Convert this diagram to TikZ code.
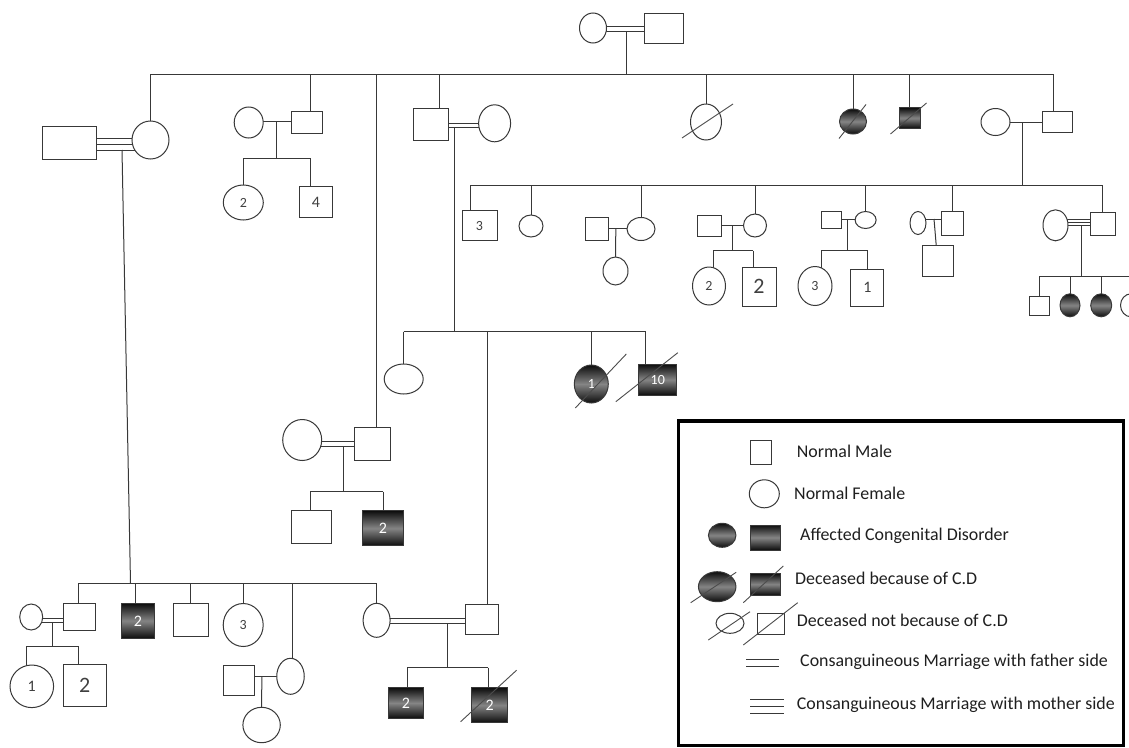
\documentclass[tikz,border=0pt]{standalone}
\usepackage{fontspec}
\setmainfont{Carlito}
\usetikzlibrary{shapes.geometric}
\pgfdeclarelayer{bg}
\pgfsetlayers{bg,main}
\tikzset{
  ln/.style={draw=black!78, line width=1pt},
  male/.style={rectangle, draw=black!78, line width=1pt, fill=white, inner sep=0pt, outer sep=0pt, font=\fontsize{14}{14}\selectfont, text=black!75},
  fem/.style={ellipse, draw=black!78, line width=1pt, fill=white, inner sep=0pt, outer sep=0pt, font=\fontsize{14}{14}\selectfont, text=black!75},
  aff/.style={top color=black!95, bottom color=black!95, middle color=black!48, text=white},
  slash/.style={draw=black!70, line width=0.9pt},
  leg/.style={anchor=west, font=\fontsize{17.9}{18}\selectfont, text=black!88, inner sep=0pt},
  big/.style={font=\fontsize{22}{22}\selectfont},
}
\begin{document}
\begin{tikzpicture}[x=1pt,y=-1pt]
\useasboundingbox (0,0) rectangle (1129,747);
\clip (0,0) rectangle (1129,747);

% ---------- Generation I ----------
\node[fem,minimum width=27,minimum height=30] (f0) at (593,28) {};
\node[male,minimum width=39,minimum height=30] (m0) at (664,28) {};
\coordinate (u0a) at (626,26.5);
\coordinate (u0b) at (626,31);
\coordinate (s1) at (626,74);

% ---------- Generation II ----------
\node[fem,minimum width=37,minimum height=38] (g2a) at (150.5,140) {};
\node[male,minimum width=54,minimum height=33] (g2as) at (69,142.5) {};
\coordinate (ua1) at (110,138);
\coordinate (ua2) at (110,144);
\coordinate (ua3) at (110,150);
\coordinate (da) at (122,150);
\coordinate (sB) at (130.5,583);

\node[male,minimum width=31,minimum height=22] (g2b) at (307,122.5) {};
\node[fem,minimum width=29,minimum height=31] (g2bs) at (248.7,122.5) {};
\coordinate (ub) at (276,121);
\coordinate (sb) at (276,158.3);
\coordinate (db) at (310,122);
\node[fem,minimum width=40,minimum height=35] (g3b1) at (243.3,202.5) {2};
\node[male,font=\fontsize{16}{16}\selectfont,minimum width=33,minimum height=31] (g3b2) at (315.8,202) {4};
\coordinate (dg3b2) at (310.7,202);

\coordinate (vc) at (376.7,444);

\node[male,minimum width=35,minimum height=32] (g2d) at (431,124.5) {};
\node[fem,minimum width=32,minimum height=37] (g2ds) at (494.6,123.3) {};
\coordinate (dd) at (439,124);
\coordinate (ud1) at (454.3,123);
\coordinate (ud2) at (454.3,127.5);
\coordinate (sd) at (454.3,331.7);

\node[fem,minimum width=31,minimum height=36] (g2e) at (706,122) {};
\node[fem,aff,minimum width=27,minimum height=25] (g2f) at (853,121.5) {};
\node[male,aff,minimum width=21,minimum height=20.5] (g2g) at (909.5,118) {};

\node[male,minimum width=30,minimum height=21] (g2h) at (1057.6,122) {};
\node[fem,minimum width=29,minimum height=27] (g2hs) at (995.5,122) {};
\coordinate (dh) at (1053.5,122);
\coordinate (uh) at (1022.6,122);
\coordinate (sh) at (1022.6,185);

% ---------- Generation III (right family) ----------
\node[male,minimum width=35,minimum height=30] (h1) at (479.5,225.7) {3};
\coordinate (dh1) at (470.8,225);
\node[fem,minimum width=24,minimum height=22] (h2) at (531,226) {};

\node[male,minimum width=23,minimum height=23] (h3s) at (596.5,229) {};
\node[fem,minimum width=28,minimum height=23] (h3) at (641,229) {};
\coordinate (uh3) at (615.8,228);
\node[fem,minimum width=25,minimum height=28] (h3c) at (615.5,271) {};

\node[male,minimum width=24,minimum height=21] (h4s) at (709,225.5) {};
\node[fem,minimum width=23,minimum height=23] (h4) at (755,225.5) {};
\coordinate (uh4) at (732,225);
\coordinate (sh4) at (732,250.7);
\node[fem,minimum width=33,minimum height=38] (h4a) at (709,286) {2};
\coordinate (dh4a) at (713,286);
\node[male,big,minimum width=34,minimum height=39] (h4b) at (759,286.5) {2};
\coordinate (dh4b) at (753.3,286);

\node[male,minimum width=20,minimum height=17] (h5s) at (831,219.5) {};
\node[fem,minimum width=21,minimum height=17] (h5) at (865.6,220) {};
\coordinate (uh5) at (847.8,219.5);
\coordinate (sh5) at (847.8,250);
\node[fem,minimum width=34,minimum height=39] (h5a) at (815,286) {3};
\coordinate (dh5a) at (821.4,286);
\node[male,font=\fontsize{16}{16}\selectfont,minimum width=33,minimum height=37] (h5b) at (867.3,287.5) {1};

\node[fem,minimum width=16,minimum height=23] (h6s) at (918,223) {};
\node[male,minimum width=22,minimum height=24] (h6) at (952,223) {};
\coordinate (uh6) at (934,219);
\node[male,minimum width=31,minimum height=31] (h6c) at (937.5,260.5) {};

\node[fem,minimum width=25,minimum height=31] (h7s) at (1055.5,225.3) {};
\node[male,minimum width=25,minimum height=23] (h7) at (1103.3,224.3) {};
\coordinate (dh7) at (1102,224);
\coordinate (uh7a) at (1080,219.5);
\coordinate (uh7b) at (1080,222.5);
\coordinate (uh7c) at (1080,225.5);
\coordinate (uh7) at (1081.7,225.5);
\coordinate (sh7) at (1081.7,276);
\node[male,minimum width=20,minimum height=19] (h7a) at (1039,305.5) {};
\node[fem,aff,minimum width=20,minimum height=23] (h7b) at (1070,305.3) {};
\node[fem,aff,minimum width=21,minimum height=23] (h7c) at (1101.2,305.3) {};
\node[fem,minimum width=21,minimum height=23] (h7d) at (1131,305.3) {};

% ---------- Generation III (children of g2d) ----------
\node[fem,minimum width=39,minimum height=30] (d1) at (403.7,379) {};
\coordinate (vd) at (487.7,619);
\node[fem,aff,minimum width=34,minimum height=38] (d3) at (591.3,384) {1};
\node[male,aff,minimum width=38,minimum height=31] (d4) at (657.8,379.7) {10};
\coordinate (dd4) at (645.7,380);

% ---------- couple under vertical at 376 ----------
\node[male,minimum width=36,minimum height=33] (g3c) at (372,444) {};
\node[fem,minimum width=39,minimum height=41] (g3cs) at (302.2,440) {};
\coordinate (uc1) at (343.3,441);
\coordinate (uc2) at (343.3,446);
\coordinate (sc) at (343.3,491.7);
\node[male,minimum width=40,minimum height=33] (c1) at (311.7,527.3) {};
\coordinate (dc1) at (310,527);
\node[male,aff,font=\fontsize{16}{16}\selectfont,minimum width=41,minimum height=35] (c2) at (383,528.3) {2};

% ---------- bottom generation ----------
\node[male,minimum width=32.5,minimum height=27] (b1) at (79.5,616.7) {};
\coordinate (db1) at (78.6,616);
\node[fem,minimum width=23,minimum height=26] (b1s) at (31.2,617) {};
\coordinate (ub1a) at (52.9,618);
\coordinate (ub1b) at (52.9,622.5);
\coordinate (sb1) at (52.9,646);
\node[fem,font=\fontsize{16}{16}\selectfont,minimum width=43.6,minimum height=42.6] (b1a) at (31.8,686.3) {1};
\coordinate (db1a) at (26.8,686);
\node[male,big,minimum width=42.4,minimum height=41.7] (b1b) at (84.8,685.8) {2};
\coordinate (db1b) at (78.6,686);
\node[male,aff,font=\fontsize{16}{16}\selectfont,minimum width=33,minimum height=35] (b2) at (137.9,620.8) {2};
\coordinate (dbb2) at (135.7,620);
\node[male,minimum width=35,minimum height=33] (b3) at (190.7,620) {};
\node[fem,minimum width=40,minimum height=43] (b4) at (243.2,625) {3};
\node[fem,minimum width=27.5,minimum height=36] (b5) at (290.5,676.3) {};
\coordinate (db5) at (292,676);
\node[male,minimum width=31.4,minimum height=30] (b5s) at (238.9,680) {};
\coordinate (ub5) at (261.8,676.7);
\node[fem,minimum width=37.4,minimum height=35.4] (b5c) at (261.6,725) {};
\node[fem,minimum width=27,minimum height=34] (b6) at (376.6,620.3) {};
\node[male,minimum width=33,minimum height=30] (b7) at (481.8,619) {};
\coordinate (ub6a) at (447.5,618.3);
\coordinate (ub6b) at (447.5,623.3);
\coordinate (sb6) at (447.5,667.7);
\node[male,aff,font=\fontsize{16}{16}\selectfont,minimum width=34.6,minimum height=30.6] (b7a) at (405.9,703) {2};
\coordinate (db7a) at (407,703);
\node[male,aff,font=\fontsize{16}{16}\selectfont,minimum width=36.5,minimum height=35] (b7b) at (489.6,705.2) {2};
\coordinate (db7b) at (488.2,705);

% ---------- slashes (deceased) ----------
\draw[slash] ([shift={(-24,16)}]g2e.center) -- ([shift={(27,-18)}]g2e.center);
\draw[slash] ([shift={(-14,17)}]g2f.center) -- ([shift={(13,-17)}]g2f.center);
\draw[slash] ([shift={(-19,16)}]g2g.center) -- ([shift={(17,-15)}]g2g.center);
\draw[slash] ([shift={(-16,24)}]d3.center) -- ([shift={(35,-30)}]d3.center);
\draw[slash] ([shift={(-42,22)}]d4.center) -- ([shift={(20,-27)}]d4.center);
\draw[slash] ([shift={(-29,16.5)}]b7b.center) -- ([shift={(27,-35)}]b7b.center);

% ---------- connectors (behind symbols) ----------
\begin{pgfonlayer}{bg}
\fill[white] (0,0) rectangle (1129,747);
% gen I
\draw[ln] (f0.center |- u0a) -- (m0.center |- u0a);
\draw[ln] (f0.center |- u0b) -- (m0.center |- u0b);
\draw[ln] (u0b) -- (s1);
\draw[ln] (g2a.center |- s1) -- (dh |- s1);
\draw[ln] (g2a.center |- s1) -- (g2a.center);
\draw[ln] (db |- s1) -- (db);
\draw[ln] (vc |- s1) -- (vc);
\draw[ln] (dd |- s1) -- (dd);
\draw[ln] (g2e.center |- s1) -- (g2e.center);
\draw[ln] (g2f.center |- s1) -- (g2f.center);
\draw[ln] (g2g.center |- s1) -- (g2g.center);
\draw[ln] (dh |- s1) -- (dh);
% couple a (triple)
\draw[ln] (g2as.center |- ua1) -- (g2a.center |- ua1);
\draw[ln] (g2as.center |- ua2) -- (g2a.center |- ua2);
\draw[ln] (g2as.center |- ua3) -- (g2a.center |- ua3);
\draw[ln] (da) -- (sB);
% couple b
\draw[ln] (g2bs.center |- ub) -- (g2b.center |- ub);
\draw[ln] (ub) -- (sb);
\draw[ln] (g3b1.center |- sb) -- (dg3b2 |- sb);
\draw[ln] (g3b1.center |- sb) -- (g3b1.center);
\draw[ln] (dg3b2 |- sb) -- (dg3b2);
% couple d
\draw[ln] (g2d.center |- ud1) -- (g2ds.center |- ud1);
\draw[ln] (g2d.center |- ud2) -- (g2ds.center |- ud2);
\draw[ln] (ud2) -- (sd);
\draw[ln] (d1.center |- sd) -- (dd4 |- sd);
\draw[ln] (d1.center |- sd) -- (d1.center);
\draw[ln] (vd |- sd) -- (vd);
\draw[ln] (d3.center |- sd) -- (d3.center);
\draw[ln] (dd4 |- sd) -- (dd4);
% couple h
\draw[ln] (g2hs.center |- uh) -- (g2h.center |- uh);
\draw[ln] (uh) -- (sh);
\draw[ln] (dh1 |- sh) -- (dh7 |- sh);
\draw[ln] (dh1 |- sh) -- (dh1);
\draw[ln] (h2.center |- sh) -- (h2.center);
\draw[ln] (h3.center |- sh) -- (h3.center);
\draw[ln] (h4.center |- sh) -- (h4.center);
\draw[ln] (h5.center |- sh) -- (h5.center);
\draw[ln] (h6.center |- sh) -- (h6.center);
\draw[ln] (dh7 |- sh) -- (dh7);
% h3
\draw[ln] (h3s.center |- uh3) -- (h3.center |- uh3);
\draw[ln] (uh3) -- (h3c.center);
% h4
\draw[ln] (h4s.center |- uh4) -- (h4.center |- uh4);
\draw[ln] (uh4) -- (sh4);
\draw[ln] (dh4a |- sh4) -- (dh4b |- sh4);
\draw[ln] (dh4a |- sh4) -- (dh4a);
\draw[ln] (dh4b |- sh4) -- (dh4b);
% h5
\draw[ln] (h5s.center |- uh5) -- (h5.center |- uh5);
\draw[ln] (uh5) -- (sh5);
\draw[ln] (dh5a |- sh5) -- (h5b.center |- sh5);
\draw[ln] (dh5a |- sh5) -- (dh5a);
\draw[ln] (h5b.center |- sh5) -- (h5b.center);
% h6
\draw[ln] (h6s.center |- uh6) -- (h6.center |- uh6);
\draw[ln] (uh6) -- (h6c.center);
% h7 (triple)
\draw[ln] (h7s.center |- uh7a) -- (h7.center |- uh7a);
\draw[ln] (h7s.center |- uh7b) -- (h7.center |- uh7b);
\draw[ln] (h7s.center |- uh7c) -- (h7.center |- uh7c);
\draw[ln] (uh7) -- (sh7);
\draw[ln] (h7a.center |- sh7) -- (h7d.center |- sh7);
\draw[ln] (h7a.center |- sh7) -- (h7a.center);
\draw[ln] (h7b.center |- sh7) -- (h7b.center);
\draw[ln] (h7c.center |- sh7) -- (h7c.center);
\draw[ln] (h7d.center |- sh7) -- (h7d.center);
% couple c
\draw[ln] (g3cs.center |- uc1) -- (g3c.center |- uc1);
\draw[ln] (g3cs.center |- uc2) -- (g3c.center |- uc2);
\draw[ln] (uc2) -- (sc);
\draw[ln] (dc1 |- sc) -- (c2.center |- sc);
\draw[ln] (dc1 |- sc) -- (dc1);
\draw[ln] (c2.center |- sc) -- (c2.center);
% bottom generation
\draw[ln] (db1 |- sB) -- (b6.center |- sB);
\draw[ln] (db1 |- sB) -- (db1);
\draw[ln] (dbb2 |- sB) -- (dbb2);
\draw[ln] (b3.center |- sB) -- (b3.center);
\draw[ln] (b4.center |- sB) -- (b4.center);
\draw[ln] (db5 |- sB) -- (db5);
\draw[ln] (b6.center |- sB) -- (b6.center);
% b1 couple
\draw[ln] (b1s.center |- ub1a) -- (b1.center |- ub1a);
\draw[ln] (b1s.center |- ub1b) -- (b1.center |- ub1b);
\draw[ln] (ub1b) -- (sb1);
\draw[ln] (db1a |- sb1) -- (db1b |- sb1);
\draw[ln] (db1a |- sb1) -- (db1a);
\draw[ln] (db1b |- sb1) -- (db1b);
% b5 couple
\draw[ln] (b5s.center |- ub5) -- (b5.center |- ub5);
\draw[ln] (ub5) -- (b5c.center);
% b6 couple
\draw[ln] (b6.center |- ub6a) -- (b7.center |- ub6a);
\draw[ln] (b6.center |- ub6b) -- (b7.center |- ub6b);
\draw[ln] (ub6b) -- (sb6);
\draw[ln] (db7a |- sb6) -- (db7b |- sb6);
\draw[ln] (db7a |- sb6) -- (db7a);
\draw[ln] (db7b |- sb6) -- (db7b);
\end{pgfonlayer}

% ---------- legend ----------
\draw[draw=black, line width=3.2pt] (678.5,421) rectangle (1123.5,745.5);
\node[male,minimum width=21,minimum height=24] (lm) at (760.5,452) {};
\node[leg] (t1) at (796.7,451) {Normal Male};
\node[fem,minimum width=30,minimum height=28] (lf) at (764.3,493.8) {};
\node[leg] (t2) at (794,493) {Normal Female};
\node[fem,aff,minimum width=27.5,minimum height=24] (laf) at (722.2,535.3) {};
\node[male,aff,minimum width=30,minimum height=25] (lam) at (765,537.5) {};
\node[leg] (t3) at (800,536) {Affected Congenital Disorder};
\node[fem,aff,minimum width=37.5,minimum height=30] (ldf) at (717.2,586.7) {};
\node[male,aff,minimum width=30,minimum height=22] (ldm) at (765,584.2) {};
\draw[slash] ([shift={(-26.5,16)}]ldf.center) -- ([shift={(19,-14.4)}]ldf.center);
\draw[slash] ([shift={(-21.7,18.5)}]ldm.center) -- ([shift={(18.3,-18.2)}]ldm.center);
\node[leg] (t4) at (795,578.3) {Deceased because of C.D};
\node[fem,minimum width=28,minimum height=20] (lnf) at (730,623.3) {};
\node[male,minimum width=26.7,minimum height=20.7] (lnm) at (770.7,623.7) {};
\draw[slash] ([shift={(-21.7,16.7)}]lnf.center) -- ([shift={(20,-11.6)}]lnf.center);
\draw[slash] ([shift={(-27.4,21.3)}]lnm.center) -- ([shift={(27,-21)}]lnm.center);
\node[leg] (t5) at (796.7,620) {Deceased not because of C.D};
\coordinate (lc1) at (746,659);
\coordinate (lc2) at (779.3,659);
\draw[ln] (lc1) -- (lc2);
\draw[ln] ([shift={(0,7)}]lc1) -- ([shift={(0,7)}]lc2);
\node[leg] (t6) at (800,662.3) {Consanguineous Marriage with father side};
\coordinate (lt1) at (750,699.5);
\coordinate (lt2) at (784,699.5);
\draw[ln] (lt1) -- (lt2);
\draw[ln] ([shift={(0,6.8)}]lt1) -- ([shift={(0,6.8)}]lt2);
\draw[ln] ([shift={(0,13.6)}]lt1) -- ([shift={(0,13.6)}]lt2);
\node[leg] (t7) at (796.7,705) {Consanguineous Marriage with mother side};
\end{tikzpicture}
\end{document}
